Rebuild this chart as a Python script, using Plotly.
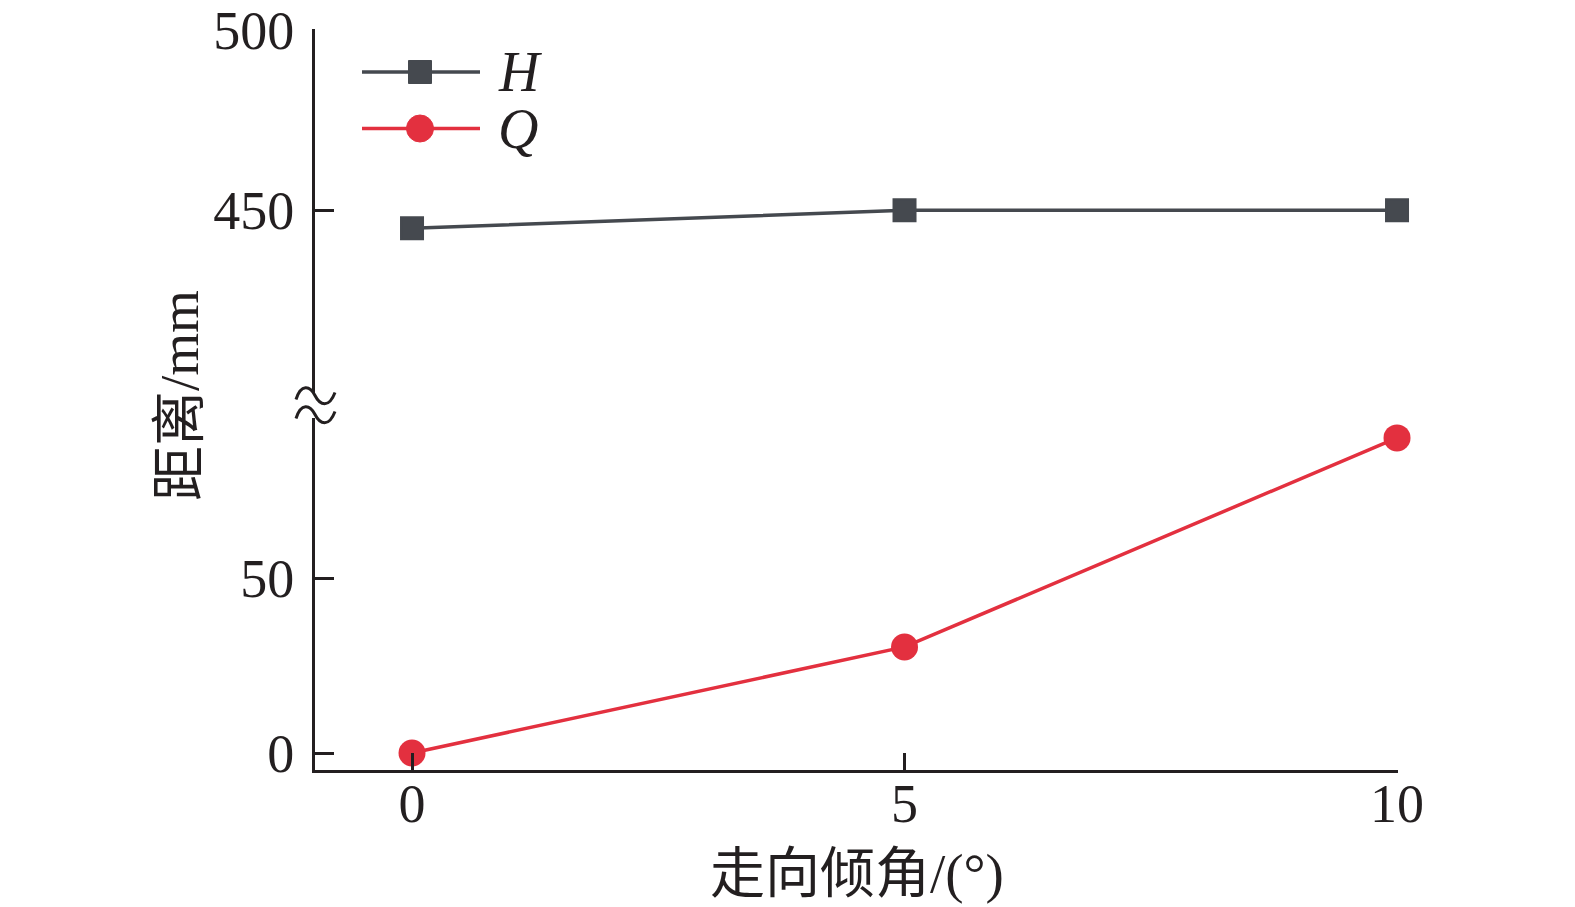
import plotly.graph_objects as go

# 数据
angles = [0, 5, 10]
h_values = [445, 450, 450]
q_values = [0, 30.4, 90.3]

FONT = "Liberation Serif, Times New Roman, Noto Sans CJK SC"
AXIS_COLOR = "#231f20"
H_COLOR = "#45494f"
Q_COLOR = "#e3303f"

W, HGT = 1575, 907
L, R, T, B = 315, 1398, 29, 770  # 绘图区像素边界


def px(x):
    return (x - L) / (R - L)


def py(y):
    return (B - y) / (B - T)


fig = go.Figure()
fig.add_trace(
    go.Scatter(
        x=angles, y=h_values, xaxis="x", yaxis="y2", mode="lines+markers",
        line=dict(color=H_COLOR, width=3.5),
        marker=dict(symbol="square", size=22, color=H_COLOR, line=dict(color=H_COLOR, width=2)),
        showlegend=False, cliponaxis=False,
    )
)
fig.add_trace(
    go.Scatter(
        x=angles, y=q_values, xaxis="x", yaxis="y", mode="lines+markers",
        line=dict(color=Q_COLOR, width=3.5),
        marker=dict(symbol="circle", size=27, color=Q_COLOR),
        showlegend=False, cliponaxis=False,
    )
)

tick_font = dict(family=FONT, size=54, color=AXIS_COLOR)
axis_common = dict(
    showline=True, linecolor=AXIS_COLOR, linewidth=3, showgrid=False, zeroline=False,
    ticks="inside", tickwidth=3, tickcolor=AXIS_COLOR, tickfont=tick_font, automargin=False,
)

shapes = []
# 断轴符号
for y0 in (395.5, 414.5):
    pts = [(296, y0 + 4), (301, y0 - 12), (310, y0 - 10), (315, y0),
           (320, y0 + 10), (329, y0 + 13), (335, y0 - 3)]
    path = "M {},{} C {},{} {},{} {},{} C {},{} {},{} {},{}".format(
        *[v for p in pts for v in (px(p[0]), py(p[1]))]
    )
    shapes.append(dict(type="path", xref="paper", yref="paper", path=path,
                       line=dict(color=AXIS_COLOR, width=3)))

# 图例
legend_items = [("H", H_COLOR, "square", 72), ("Q", Q_COLOR, "circle", 128.5)]
annotations = []
for name, color, sym, ly in legend_items:
    shapes.append(dict(type="line", xref="paper", yref="paper",
                       x0=px(362), x1=px(480), y0=py(ly), y1=py(ly),
                       line=dict(color=color, width=3.5)))
    half = 11.5 if sym == "square" else 13.5
    shapes.append(dict(type="rect" if sym == "square" else "circle",
                       xref="paper", yref="paper", xsizemode="pixel", ysizemode="pixel",
                       xanchor=px(420), yanchor=py(ly),
                       x0=-half, x1=half, y0=-half, y1=half,
                       fillcolor=color, line=dict(color=color, width=1)))
    annotations.append(dict(text=f"<i>{name}</i>", xref="paper", yref="paper",
                            x=px(496), y=py(ly), xanchor="left", yanchor="middle",
                            showarrow=False, font=dict(family=FONT, size=56, color=AXIS_COLOR)))

annotations.append(dict(text="走向倾角/(°)", xref="paper", yref="paper",
                        x=0.5, y=py(873), xanchor="center", yanchor="middle",
                        showarrow=False, font=dict(family=FONT, size=55, color=AXIS_COLOR)))
annotations.append(dict(text="距离/mm", xref="paper", yref="paper", textangle=-90,
                        x=px(179), y=py(396), xanchor="center", yanchor="middle",
                        showarrow=False, font=dict(family=FONT, size=55, color=AXIS_COLOR)))

fig.update_layout(
    width=W, height=HGT,
    margin=dict(l=L, r=W - R, t=T, b=HGT - B, autoexpand=False),
    plot_bgcolor="white", paper_bgcolor="white",
    xaxis=dict(axis_common, range=[-0.985, 10.01], tickvals=[0, 5, 10], ticklen=17,
               anchor="y", ticklabelstandoff=-16),
    yaxis=dict(axis_common, range=[-4.87, 96.0], domain=[0, 0.475], tickvals=[0, 50],
               ticklen=19, anchor="x", ticklabelstandoff=7),
    yaxis2=dict(axis_common, range=[399.4, 500.2], domain=[0.5088, 1], tickvals=[450, 500],
                ticklen=19, anchor="x", ticklabelstandoff=7),
    shapes=shapes,
    annotations=annotations,
)

fig.write_html("out.html", config={"displayModeBar": False},
               post_script="document.body.style.margin='0';")
